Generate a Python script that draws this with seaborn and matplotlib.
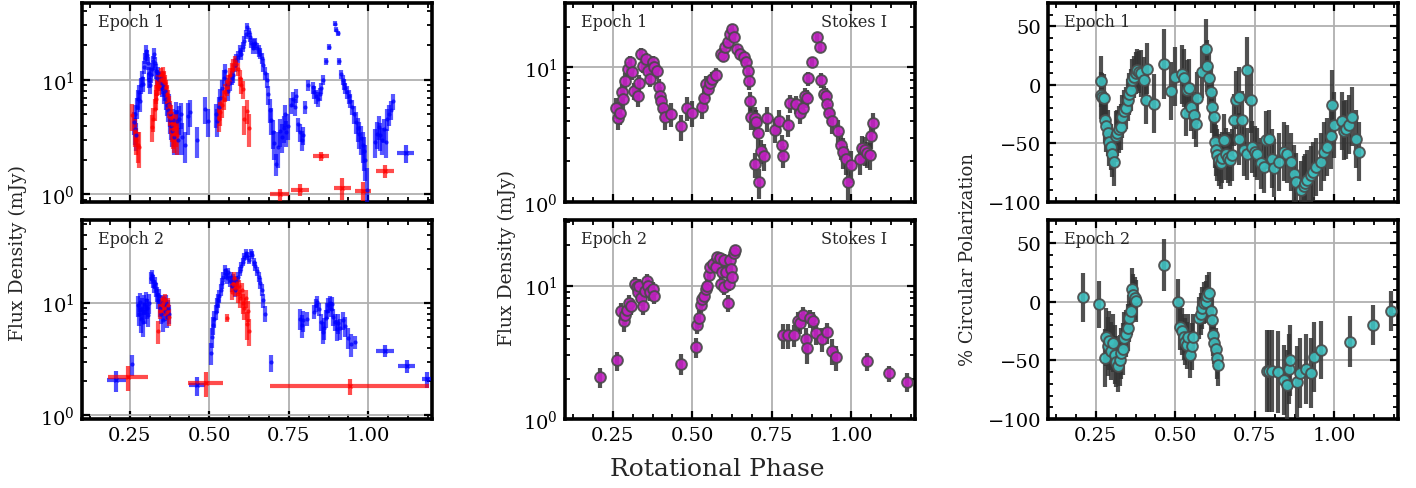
import numpy as np
import pandas as pd
import matplotlib
matplotlib.use("Agg")
import matplotlib.pyplot as plt
import seaborn as sns
from matplotlib.ticker import AutoMinorLocator, MultipleLocator, LogLocator, NullFormatter

sns.set_theme(style="ticks")
plt.rcParams['font.family'] = ['DejaVu Serif']
plt.rcParams['mathtext.fontset'] = 'dejavuserif'

# ---------------- data: (phase, flux mJy, error) ----------------
e1_blue = [(0.262,4.3,1.0),(0.265,3.7,1.0),(0.268,5.0,1.1),(0.270,3.3,0.9),(0.273,5.8,1.2),(0.276,6.8,1.3),
 (0.279,7.8,1.3),(0.282,6.5,1.2),(0.285,9.0,1.4),(0.288,10.5,1.5),(0.291,9.2,1.4),(0.294,13.0,1.7),(0.297,15.5,1.8),
 (0.300,18.0,2.0),(0.303,16.5,1.9),(0.306,14.0,1.8),(0.309,11.5,1.6),(0.312,10.0,1.5),(0.315,9.0,1.5),(0.318,11.0,1.6),
 (0.321,12.5,1.7),(0.324,14.5,1.8),(0.327,17.0,1.9),(0.330,14.0,1.8),(0.333,12.0,1.7),(0.336,10.5,1.6),(0.339,11.5,1.6),
 (0.342,10.0,1.5),(0.345,9.5,1.5),(0.348,10.5,1.5),(0.351,8.5,1.4),(0.354,9.0,1.4),(0.357,7.5,1.3),(0.360,8.0,1.4),
 (0.363,6.8,1.3),(0.366,6.0,1.2),(0.369,5.5,1.2),(0.372,6.2,1.3),(0.375,5.0,1.1),(0.378,4.5,1.1),(0.381,4.0,1.0),
 (0.384,3.6,1.0),(0.387,4.5,1.1),(0.390,3.2,1.0),(0.394,5.2,1.2),(0.398,4.4,1.1),(0.402,3.0,0.8),(0.405,4.6,1.3),
 (0.412,5.0,1.3),(0.415,3.2,1.0),(0.423,2.7,0.8),(0.432,4.8,1.5),(0.440,5.3,1.4),(0.460,3.0,0.9),(0.486,5.6,1.5),
 (0.497,4.4,1.2),(0.520,5.0,1.2),(0.525,4.4,1.2),(0.530,5.8,1.3),(0.535,7.0,1.4),(0.540,8.5,1.5),(0.545,10.5,1.6),
 (0.550,12.0,1.7),(0.555,9.0,1.5),(0.560,8.0,1.4),(0.565,9.5,1.5),(0.570,10.5,1.5),(0.575,11.0,1.6),(0.580,13.5,1.7),
 (0.585,15.0,1.8),(0.590,16.0,1.9),(0.595,18.0,2.0),(0.600,17.0,2.0),(0.605,19.5,2.0),(0.610,22.0,2.1),(0.615,25.0,2.2),
 (0.620,29.0,2.4),(0.624,26.0,2.3),(0.628,23.5,2.2),(0.632,21.0,2.1),(0.636,19.0,2.0),(0.640,20.5,2.1),(0.645,21.0,2.1),
 (0.650,19.0,2.0),(0.655,18.0,2.0),(0.660,17.0,1.9),(0.665,15.5,1.8),(0.670,13.5,1.7),(0.675,11.5,1.6),(0.680,10.0,1.5),
 (0.685,7.5,1.4),(0.690,5.5,1.3),(0.695,4.5,1.2),(0.700,3.5,1.0),(0.704,2.8,0.8),(0.710,1.85,0.4),(0.716,2.6,0.9),
 (0.722,3.6,1.0),(0.728,3.2,0.9),(0.734,3.8,1.0),(0.738,5.0,1.1),(0.742,3.5,0.9),(0.748,4.0,1.0),(0.756,6.0,1.0),
 (0.762,6.8,1.0),(0.768,5.8,1.0),(0.772,7.3,1.0),(0.780,4.1,0.6),(0.786,3.5,0.6),(0.790,3.0,0.6),(0.796,3.3,0.6),
 (0.800,5.8,0.8),(0.810,9.0,1.0),(0.825,8.6,1.0),(0.830,7.8,1.0),(0.836,7.2,1.0),(0.842,6.8,1.0),(0.847,7.5,1.0),
 (0.852,8.5,1.0),(0.856,10.0,1.0),(0.868,14.5,1.0),(0.876,19.5,1.2),(0.894,31.0,1.5),(0.899,27.5,1.5),(0.904,25.5,1.5),
 (0.908,14.5,1.0),(0.915,11.2,1.0),(0.920,10.0,1.0),(0.924,9.2,1.0),(0.928,8.5,1.0),(0.933,7.8,1.0),(0.938,7.2,1.0),
 (0.943,6.6,0.9),(0.950,5.8,0.9),(0.956,5.0,0.9),(0.962,4.3,0.9),(0.967,3.8,0.9),(0.972,3.4,0.9),(0.977,3.1,0.9),
 (0.982,2.7,0.8),(0.986,2.4,0.8),(0.990,2.0,0.7),(0.997,1.1,0.6),(1.020,2.9,0.8),(1.026,3.4,0.9),(1.032,3.9,0.9),
 (1.038,3.3,0.9),(1.044,3.0,0.8),(1.050,3.7,0.9),(1.055,2.9,0.8),(1.060,4.6,1.0),(1.066,5.0,1.0),(1.070,5.5,1.0),
 (1.076,6.5,1.0)]
# wide-bin points: (phase, flux, phase half-width, error)
e1_blue_wide = [(1.117,2.3,0.026,0.4)]

e1_red = [(0.258,4.9,1.3),(0.265,3.6,1.0),(0.270,3.0,0.8),(0.276,2.7,0.8),(0.280,2.6,0.9),(0.320,3.9,1.0),
 (0.324,4.6,1.1),(0.328,5.6,1.2),(0.331,6.8,1.3),(0.334,7.6,1.4),(0.337,8.6,1.4),(0.340,9.5,1.5),(0.343,8.8,1.4),
 (0.346,10.0,1.5),(0.349,11.0,1.6),(0.352,10.2,1.5),(0.355,11.5,1.6),(0.358,10.5,1.5),(0.361,9.5,1.5),(0.364,8.6,1.4),
 (0.367,7.6,1.4),(0.370,6.8,1.3),(0.373,6.0,1.3),(0.376,5.3,1.3),(0.379,4.7,1.3),(0.382,4.1,1.2),(0.386,3.7,1.2),
 (0.390,3.4,1.1),(0.394,3.8,1.2),(0.398,3.3,1.1),(0.530,4.6,1.1),(0.535,5.2,1.2),(0.540,6.0,1.3),(0.545,6.8,1.3),
 (0.550,7.8,1.4),(0.555,8.6,1.4),(0.560,9.5,1.5),(0.565,11.0,1.6),(0.570,12.5,1.7),(0.575,13.5,1.8),(0.580,14.5,1.8),
 (0.585,13.8,1.8),(0.590,12.5,1.7),(0.595,10.5,1.6),(0.600,9.0,1.5),(0.605,8.3,1.5),(0.608,4.6,1.3),(0.620,5.4,1.3),
 (0.624,3.8,1.2)]
e1_red_wide = [(0.722,1.0,0.030,0.12),(0.784,1.1,0.028,0.13),(0.852,2.15,0.025,0.2),(0.918,1.15,0.027,0.25),
 (0.983,1.08,0.025,0.2),(1.052,1.6,0.027,0.22)]

e2_blue = [(0.257,2.85,0.6),(0.276,9.5,2.0),(0.279,8.0,1.8),(0.282,10.2,2.0),(0.285,7.2,1.8),(0.288,9.0,2.0),
 (0.291,6.8,1.8),(0.294,9.8,2.0),(0.297,8.2,1.8),(0.300,10.5,2.0),(0.303,9.0,1.8),(0.306,7.8,1.7),(0.309,10.0,2.0),
 (0.318,16.5,2.0),(0.321,17.5,2.0),(0.324,15.5,2.0),(0.327,14.0,1.9),(0.330,15.0,1.9),(0.333,13.0,1.8),(0.336,12.0,1.8),
 (0.339,10.5,1.7),(0.342,11.5,1.8),(0.345,9.0,1.6),(0.348,8.0,1.5),(0.351,10.0,1.7),(0.354,7.0,1.5),(0.357,9.5,1.7),
 (0.360,8.5,1.6),(0.363,10.0,1.7),(0.366,7.5,1.5),(0.370,9.0,1.6),(0.373,8.0,1.5),(0.506,3.6,0.8),(0.510,5.0,1.0),
 (0.513,6.3,1.1),(0.516,7.2,1.2),(0.520,8.3,1.3),(0.524,9.5,1.4),(0.528,10.5,1.5),(0.532,11.5,1.5),(0.536,13.0,1.6),
 (0.540,15.0,1.7),(0.544,17.0,1.8),(0.548,19.5,1.9),(0.552,18.0,1.9),(0.556,16.5,1.8),(0.560,18.5,1.9),(0.564,15.5,1.8),
 (0.568,17.0,1.8),(0.572,14.0,1.7),(0.576,16.0,1.8),(0.580,13.0,1.7),(0.585,15.5,1.8),(0.590,17.0,1.8),(0.595,19.0,1.9),
 (0.600,21.0,2.0),(0.605,23.0,2.0),(0.610,25.5,2.1),(0.615,27.5,2.2),(0.620,26.0,2.1),(0.625,24.0,2.1),(0.630,27.5,2.2),
 (0.635,26.5,2.2),(0.640,23.0,2.0),(0.645,21.0,2.0),(0.650,19.0,1.9),(0.655,17.0,1.8),(0.660,15.0,1.7),(0.665,13.0,1.6),
 (0.670,10.5,1.5),(0.676,8.0,1.3),(0.693,2.95,0.5),(0.785,7.2,1.5),(0.790,6.3,1.4),(0.795,7.0,1.5),(0.808,7.2,1.0),
 (0.830,8.3,1.2),(0.835,9.5,1.3),(0.840,10.2,1.3),(0.845,8.8,1.2),(0.852,6.8,1.2),(0.857,5.5,1.2),(0.862,6.0,1.3),
 (0.866,7.3,1.3),(0.870,8.5,1.4),(0.874,9.5,1.4),(0.878,10.0,1.4),(0.882,8.8,1.3),(0.886,9.8,1.4),(0.890,7.5,1.3),
 (0.895,6.8,1.2),(0.900,5.8,1.2),(0.905,6.6,1.3),(0.912,5.9,1.2),(0.920,7.0,1.3),(0.926,6.2,1.2),(0.935,4.9,1.0),
 (0.945,4.3,1.0),(0.958,4.5,0.6)]
e2_blue_wide = [(0.208,2.05,0.030,0.45),(0.462,1.85,0.025,0.35),(1.052,3.75,0.027,0.45),(1.120,2.75,0.027,0.35),
 (1.183,2.1,0.015,0.35)]

e2_red = [(0.340,5.6,1.3),(0.345,8.5,1.3),(0.350,9.5,1.4),(0.354,10.0,1.4),(0.358,9.0,1.4),(0.362,10.5,1.4),
 (0.366,8.3,1.3),(0.370,9.6,1.4),(0.374,7.5,1.3),(0.555,7.3,0.6),(0.570,12.5,2.0),(0.574,14.5,2.0),(0.578,16.5,2.0),
 (0.582,13.5,2.0),(0.586,15.0,2.0),(0.590,12.0,2.0),(0.594,14.0,2.0),(0.598,11.0,2.0),(0.602,13.0,2.0),(0.606,10.0,2.0),
 (0.610,9.0,2.0),(0.614,11.0,2.0),(0.618,6.5,1.8),(0.622,8.5,1.8),(0.625,5.6,1.5)]
e2_red_wide = [(0.245,2.2,0.062,0.55),(0.489,1.95,0.055,0.5),(0.942,1.82,0.250,0.3)]

# Stokes I (phase, flux, error)
e1_stokes = [(0.260,5.0,0.9),(0.268,4.2,0.8),(0.274,4.6,0.9),(0.278,6.5,1.0),(0.283,5.8,1.0),(0.289,7.9,1.1),
 (0.297,9.7,1.2),(0.305,10.9,1.2),(0.309,9.2,1.1),(0.318,6.7,1.0),(0.328,6.1,1.0),(0.333,7.7,1.1),(0.339,12.6,1.3),
 (0.344,10.3,1.2),(0.354,11.5,1.3),(0.361,9.4,1.2),(0.368,8.2,1.1),(0.375,10.9,1.2),(0.380,10.0,1.2),(0.390,9.4,1.2),
 (0.396,7.1,1.1),(0.399,6.1,1.0),(0.403,5.6,1.0),(0.409,5.0,1.0),(0.414,4.3,0.9),(0.434,4.5,0.9),(0.464,3.65,0.8),
 (0.484,5.0,1.0),(0.500,4.6,1.0),(0.531,5.1,1.0),(0.536,5.9,1.0),(0.542,7.5,1.1),(0.549,6.9,1.1),(0.557,7.7,1.1),
 (0.562,8.2,1.1),(0.573,8.7,1.1),(0.589,12.6,1.2),(0.597,12.2,1.2),(0.604,14.1,1.3),(0.611,15.4,1.3),(0.620,17.8,1.4),
 (0.625,19.4,1.4),(0.630,16.8,1.3),(0.640,13.7,1.3),(0.651,12.6,1.2),(0.661,11.9,1.2),(0.669,10.9,1.2),(0.674,9.4,1.1),
 (0.677,7.9,1.1),(0.682,5.6,1.0),(0.685,4.3,0.9),(0.698,4.2,0.9),(0.701,3.9,0.9),(0.708,3.25,0.8),(0.698,1.9,0.4),
 (0.711,1.4,0.35),(0.716,2.4,0.5),(0.724,2.2,0.5),(0.736,4.2,0.9),(0.760,3.45,0.7),(0.771,4.0,0.8),(0.781,2.66,0.5),
 (0.786,2.2,0.4),(0.802,3.76,0.7),(0.807,5.4,0.8),(0.826,5.3,0.8),(0.839,4.6,0.8),(0.849,5.0,0.8),(0.854,6.1,0.9),
 (0.859,5.9,0.9),(0.865,8.3,1.0),(0.875,10.9,1.1),(0.891,16.8,1.3),(0.901,14.1,1.2),(0.906,8.0,1.0),(0.914,6.3,0.9),
 (0.920,6.1,0.9),(0.924,5.3,0.9),(0.930,4.6,0.8),(0.938,4.0,0.8),(0.958,3.35,0.7),(0.967,2.66,0.6),(0.974,2.37,0.6),
 (0.982,2.1,0.5),(0.990,1.41,0.4),(1.000,1.88,0.5),(1.026,2.1,0.5),(1.034,2.5,0.6),(1.042,2.44,0.6),(1.049,2.3,0.5),
 (1.057,2.24,0.5),(1.062,3.07,0.6),(1.068,3.87,0.7)]
e2_stokes = [(0.211,2.05,0.35),(0.264,2.75,0.45),(0.276,6.4,1.0),(0.286,5.4,0.9),(0.289,6.05,1.0),(0.295,6.6,1.0),
 (0.302,7.4,1.1),(0.307,7.0,1.0),(0.320,10.3,1.3),(0.326,9.7,1.2),(0.330,8.9,1.2),(0.334,10.0,1.2),(0.339,8.1,1.1),
 (0.344,7.0,1.0),(0.351,9.1,1.2),(0.357,10.9,1.3),(0.361,10.0,1.2),(0.368,8.9,1.2),(0.375,9.4,1.2),(0.380,8.4,1.1),
 (0.466,2.6,0.45),(0.511,3.45,0.6),(0.516,5.1,0.8),(0.520,5.7,0.9),(0.526,7.2,1.0),(0.531,7.9,1.0),(0.536,8.4,1.1),
 (0.542,9.4,1.1),(0.547,10.0,1.2),(0.552,11.9,1.3),(0.557,13.8,1.4),(0.566,14.6,1.4),(0.573,13.8,1.4),(0.578,16.5,1.5),
 (0.586,16.0,1.5),(0.591,10.3,1.2),(0.594,12.6,1.3),(0.599,15.6,1.5),(0.601,9.7,1.2),(0.607,12.6,1.3),(0.611,7.4,1.1),
 (0.615,10.3,1.2),(0.618,15.6,1.5),(0.622,13.4,1.4),(0.625,11.6,1.3),(0.630,17.5,1.5),(0.633,18.6,1.6),(0.786,4.25,0.9),
 (0.802,4.25,0.9),(0.820,4.25,0.8),(0.833,5.4,0.9),(0.840,5.2,0.9),(0.849,6.0,0.9),(0.857,4.0,0.8),(0.861,3.4,0.8),
 (0.871,5.7,0.9),(0.880,5.4,0.9),(0.889,4.4,0.8),(0.909,4.0,0.8),(0.922,4.45,0.8),(0.938,3.25,0.7),(0.953,2.9,0.6),
 (1.050,2.7,0.4),(1.118,2.2,0.3),(1.175,1.9,0.3)]

# circular polarization (phase, percent, error)
e1_pol = [(0.266,3,22),(0.266,-9,20),(0.271,-10,20),(0.276,-11,20),(0.278,-30,20),(0.283,-35,22),(0.287,-41,20),
 (0.292,-49,20),(0.297,-53,20),(0.302,-59,20),(0.307,-66,20),(0.313,-44,22),(0.318,-41,20),(0.323,-38,20),
 (0.329,-36,20),(0.334,-27,18),(0.339,-22,18),(0.344,-20,18),(0.350,-13,18),(0.355,-8,18),(0.360,-4,18),
 (0.365,4,18),(0.370,7,18),(0.376,10,18),(0.381,13,18),(0.386,11,18),(0.391,10,20),(0.402,4,20),(0.407,-13,20),
 (0.412,14,22),(0.433,-16,25),(0.463,18,30),(0.486,-5,25),(0.498,7,25),(0.522,9,25),(0.527,6,25),(0.533,-24,20),
 (0.538,-4,25),(0.543,-3,25),(0.548,-19,20),(0.559,-26,20),(0.564,-33,20),(0.569,-11,22),(0.585,11,22),
 (0.596,31,25),(0.601,16,22),(0.606,6,22),(0.611,-6,22),(0.616,-19,22),(0.622,-27,22),(0.624,-49,22),
 (0.627,-56,22),(0.632,-60,22),(0.637,-64,22),(0.643,-67,22),(0.648,-62,22),(0.653,-47,22),(0.658,-59,22),
 (0.665,-62,22),(0.672,-64,22),(0.679,-60,22),(0.685,-30,22),(0.690,-13,25),(0.700,-10,25),(0.700,-46,22),
 (0.711,-30,25),(0.716,-56,22),(0.726,-59,22),(0.726,13,28),(0.737,-13,28),(0.742,-53,22),(0.750,-57,22),
 (0.758,-59,22),(0.768,-67,22),(0.779,-70,22),(0.784,-47,25),(0.795,-46,25),(0.805,-63,25),(0.810,-71,25),
 (0.826,-66,25),(0.842,-57,25),(0.852,-59,25),(0.863,-66,25),(0.873,-76,25),(0.878,-83,25),(0.894,-90,25),
 (0.904,-86,25),(0.909,-84,25),(0.915,-81,25),(0.925,-77,25),(0.932,-74,25),(0.941,-70,25),(0.957,-66,25),
 (0.967,-57,25),(0.978,-53,25),(0.988,-44,28),(0.993,-17,30),(1.000,-34,28),(1.025,-31,25),(1.030,-39,25),
 (1.035,-38,25),(1.046,-34,25),(1.054,-27,25),(1.067,-46,25),(1.077,-57,25)]
e2_pol = [(0.210,4,21),(0.260,-2,20),(0.278,-48,25),(0.283,-30,25),(0.288,-38,25),(0.293,-33,25),(0.298,-42,25),
 (0.304,-35,25),(0.309,-45,25),(0.315,-51,22),(0.320,-55,22),(0.325,-50,22),(0.330,-44,22),(0.335,-40,22),
 (0.340,-31,22),(0.345,-27,20),(0.350,-22,20),(0.355,-14,20),(0.360,-8,20),(0.364,11,18),(0.368,6,18),
 (0.372,3,18),(0.377,1,18),(0.466,31.6,22),(0.510,0,20),(0.515,-21,20),(0.520,-25,20),(0.526,-30,20),
 (0.531,-34,20),(0.536,-37,20),(0.541,-30,20),(0.546,-45,20),(0.552,-38,20),(0.556,-30,20),(0.575,-14,18),
 (0.580,-10,18),(0.585,-5,18),(0.590,-1,18),(0.596,0,18),(0.601,5,18),(0.606,8,18),(0.611,-8,18),(0.615,-15,18),
 (0.619,-28,18),(0.623,-35,18),(0.627,-40,18),(0.631,-48,18),(0.635,-54,18),(0.787,-59,35),(0.795,-59,35),
 (0.805,-59,35),(0.822,-60,35),(0.843,-67,30),(0.852,-71,30),(0.857,-57,30),(0.862,-50,30),(0.883,-68,30),
 (0.892,-61,30),(0.910,-57,30),(0.926,-61,30),(0.936,-47,30),(0.957,-41,25),(1.050,-34,22),(1.120,-20,17),
 (1.177,-7.5,17)]

BLUE = '#0000ff'
RED = '#ff0000'
MAG = '#c21fc2'
CYAN = '#3dbfbf'

def frame(rows, cols):
    return pd.DataFrame(rows, columns=cols)

fig = plt.figure(figsize=(14.16, 4.89), dpi=100)
gs = fig.add_gridspec(2, 3, left=82/1416, right=1398/1416, top=1-4/489, bottom=1-420/489,
                      wspace=133/350, hspace=18/199)
axes = [[fig.add_subplot(gs[r, c]) for c in range(3)] for r in range(2)]

def style(ax, bottom):
    ax.grid(True, color='#b0b0b0', lw=1.3)
    ax.set_axisbelow(True)
    for s in ax.spines.values():
        s.set_linewidth(2.6)
        s.set_color('black')
    ax.set_xlim(0.1, 1.2)
    ax.xaxis.set_major_locator(MultipleLocator(0.25))
    ax.xaxis.set_minor_locator(AutoMinorLocator(4))
    ax.tick_params(which='both', direction='in', top=True, right=True, labelsize=14,
                   labelbottom=bottom, colors='black')
    ax.tick_params(which='major', length=6, width=1.6, pad=5)
    ax.tick_params(which='minor', length=3.5, width=1.3)
    ax.set_xlabel('')
    ax.set_ylabel('')

def draw_lr(ax, blue, blue_w, red, red_w):
    for pts, wide, col in ((blue, blue_w, BLUE), (red, red_w, RED)):
        d = frame(pts, ['phase', 'flux', 'err'])
        ax.errorbar(d['phase'], d['flux'], yerr=d['err'], fmt='none', ecolor=col,
                    elinewidth=3, alpha=0.65, zorder=3)
        sns.scatterplot(data=d, x='phase', y='flux', ax=ax, color=col, s=9, linewidth=0,
                        alpha=0.75, zorder=4, legend=False)
        w = frame(wide, ['phase', 'flux', 'xerr', 'err'])
        ax.errorbar(w['phase'], w['flux'], xerr=w['xerr'], yerr=w['err'], fmt='x', ms=3,
                    color=col, ecolor=col, elinewidth=3, alpha=0.7, zorder=3)

def draw_stokes(ax, pts):
    d = frame(pts, ['phase', 'flux', 'err'])
    ax.errorbar(d['phase'], d['flux'], yerr=d['err'], fmt='none', ecolor='#333333',
                elinewidth=3, alpha=0.85, zorder=3)
    sns.scatterplot(data=d, x='phase', y='flux', ax=ax, color=MAG, s=60, edgecolor='#4a4a4a',
                    linewidth=1.4, alpha=0.9, zorder=4, legend=False)

def draw_pol(ax, pts):
    d = frame(pts, ['phase', 'pol', 'err'])
    ax.errorbar(d['phase'], d['pol'], yerr=d['err'], fmt='none', ecolor='#333333',
                elinewidth=3, alpha=0.85, zorder=3)
    sns.scatterplot(data=d, x='phase', y='pol', ax=ax, color=CYAN, s=60, edgecolor='#4a4a4a',
                    linewidth=1.4, alpha=0.9, zorder=4, legend=False)

draw_lr(axes[0][0], e1_blue, e1_blue_wide, e1_red, e1_red_wide)
draw_lr(axes[1][0], e2_blue, e2_blue_wide, e2_red, e2_red_wide)
draw_stokes(axes[0][1], e1_stokes)
draw_stokes(axes[1][1], e2_stokes)
draw_pol(axes[0][2], e1_pol)
draw_pol(axes[1][2], e2_pol)

for r in range(2):
    for c in range(3):
        ax = axes[r][c]
        style(ax, r == 1)
        if c < 2:
            ax.set_yscale('log')
            ax.yaxis.set_major_locator(LogLocator(base=10, numticks=10))
            ax.yaxis.set_minor_locator(LogLocator(base=10, subs=np.arange(2, 10), numticks=20))
            ax.yaxis.set_minor_formatter(NullFormatter())
        else:
            ax.set_ylim(-100, 70)
            ax.yaxis.set_major_locator(MultipleLocator(50))
            ax.yaxis.set_minor_locator(AutoMinorLocator(5))
        ax.text(0.045, 0.95, f'Epoch {r+1}', transform=ax.transAxes, ha='left', va='top',
                fontsize=11.5, zorder=10)
    axes[r][1].text(0.92, 0.95, 'Stokes I', transform=axes[r][1].transAxes, ha='right',
                    va='top', fontsize=11.5, zorder=10)

axes[0][0].set_ylim(0.86, 47)
axes[1][0].set_ylim(0.93, 54)
axes[0][1].set_ylim(1, 30)
axes[1][1].set_ylim(1, 31)

fig.text(18/1416, 1-253/489, 'Flux Density (mJy)', rotation=90, ha='center', va='center', fontsize=13.5)
fig.text(507/1416, 1-258/489, 'Flux Density (mJy)', rotation=90, ha='center', va='center', fontsize=13.5)
fig.text(968/1416, 1-260/489, '% Circular Polarization', rotation=90, ha='center', va='center', fontsize=13)
fig.text(717/1416, 1-470/489, 'Rotational Phase', ha='center', va='center', fontsize=18)

fig.savefig('out.png', dpi=100)
